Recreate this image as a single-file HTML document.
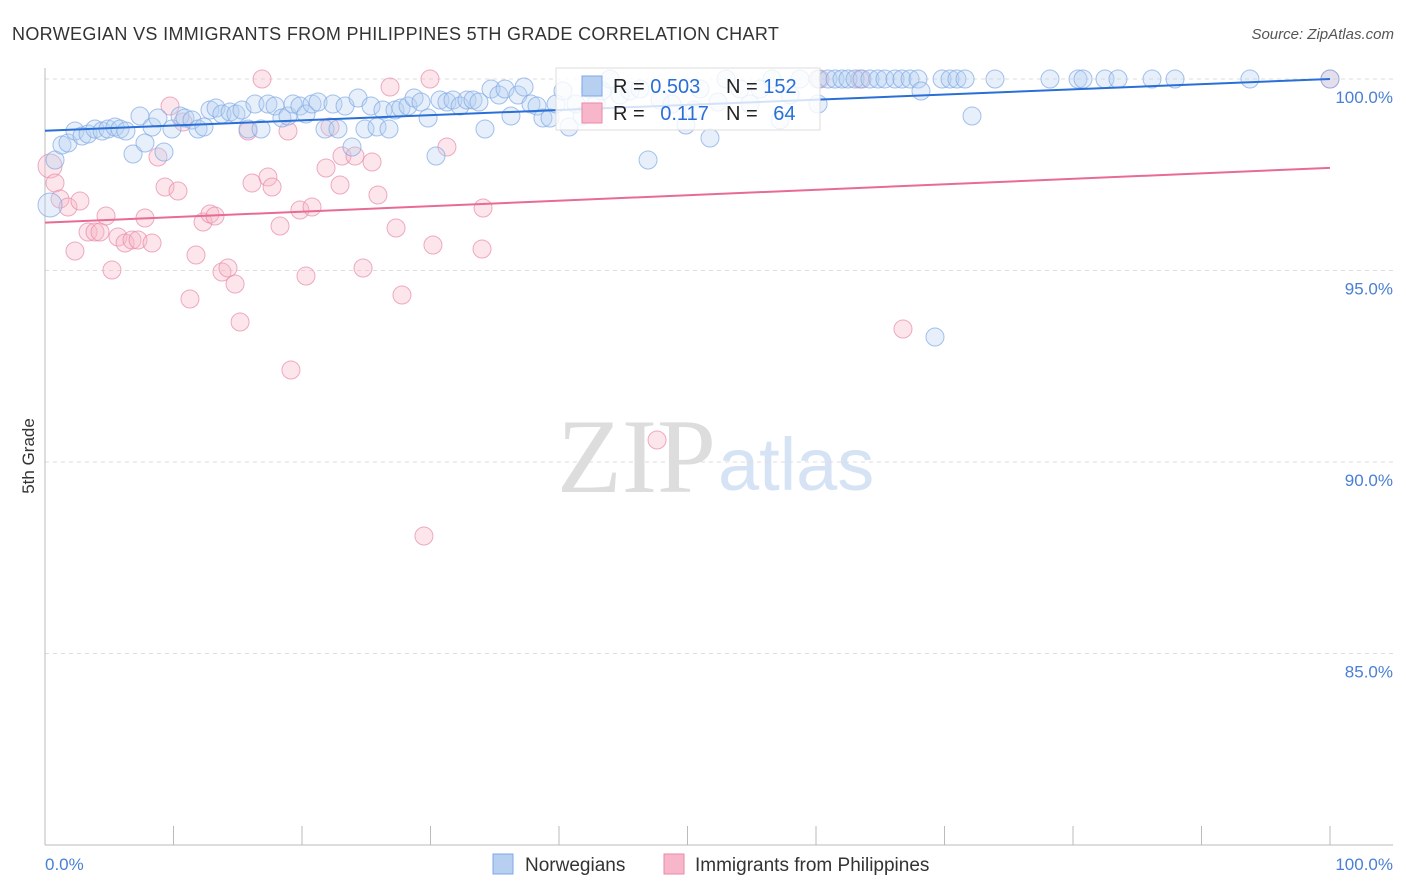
<!DOCTYPE html>
<html><head><meta charset="utf-8"><style>
body{margin:0;background:#fff;font-family:"Liberation Sans",sans-serif;}
svg{display:block}
</style></head><body>
<svg id="c" width="1406" height="892">
<text x="12" y="40" font-size="18" fill="#333" letter-spacing="0.34">NORWEGIAN VS IMMIGRANTS FROM PHILIPPINES 5TH GRADE CORRELATION CHART</text>
<text x="1394" y="39" font-size="15" fill="#555" font-style="italic" text-anchor="end">Source: ZipAtlas.com</text>
<text x="34" y="456" font-size="17" fill="#333" text-anchor="middle" transform="rotate(-90 34 456)">5th Grade</text>
<text x="716" y="492" font-size="106" fill="#ddd" text-anchor="end" font-family="Liberation Serif,serif">ZIP</text>
<text x="718" y="490" font-size="74" fill="#d5e3f5">atlas</text>
<g id="grid"></g><g id="pts"></g><g id="lines"></g>
</svg>
<script>
const yTicks=[100,95,90,85];
const xTickLabels=["0.0%","100.0%"];
const blueX=[],blueY=[],pinkX=[],pinkY=[];
const bluePx=[[50,205],[55,160],[62,145],[68,143],[75,131],[82,136],[88,134],[95,129],[102,131],[108,129],[115,127],[120,129],[126,131],[133,154],[140,116],[145,143],[152,127],[158,118],[164,152],[172,129],[180,116],[185,118],[192,120],[198,129],[204,127],[210,110],[216,108],[222,114],[230,112],[236,114],[242,110],[248,129],[255,104],[261,129],[268,104],[275,106],[282,118],[288,116],[293,104],[300,106],[306,114],[312,104],[318,102],[325,129],[333,104],[338,129],[345,106],[352,147],[358,98],[365,129],[371,106],[377,127],[383,110],[389,129],[395,110],[401,108],[408,106],[414,98],[421,102],[428,118],[436,156],[440,100],[447,102],[453,100],[460,106],[467,100],[473,100],[479,102],[485,129],[491,89],[499,95],[505,89],[511,116],[518,95],[524,87],[531,104],[537,106],[543,118],[550,118],[556,104],[563,91],[569,127],[576,104],[582,116],[590,89],[596,104],[602,91],[610,79],[620,95],[630,91],[640,89],[648,160],[660,100],[672,104],[686,125],[694,110],[700,89],[710,138],[718,102],[726,79],[740,89],[750,104],[760,89],[772,79],[780,120],[790,95],[800,79],[818,104],[818,79],[828,79],[835,79],[842,79],[848,79],[855,79],[862,79],[870,79],[878,79],[885,79],[895,79],[902,79],[910,79],[918,79],[921,91],[935,337],[942,79],[950,79],[957,79],[965,79],[972,116],[995,79],[1050,79],[1078,79],[1083,79],[1105,79],[1118,79],[1152,79],[1175,79],[1250,79],[1330,79]];
const pinkPx=[[50,166],[55,183],[60,199],[68,207],[75,251],[80,201],[88,232],[95,232],[100,232],[106,216],[112,270],[118,237],[125,243],[132,240],[138,240],[145,218],[152,243],[158,157],[165,187],[170,106],[178,191],[183,122],[190,299],[196,255],[203,222],[210,214],[215,216],[222,272],[228,268],[235,284],[240,322],[248,131],[252,183],[262,79],[268,177],[272,187],[280,226],[288,131],[291,370],[300,210],[306,276],[312,207],[326,168],[330,127],[340,185],[342,156],[355,156],[363,268],[372,162],[378,195],[390,87],[396,228],[402,295],[424,536],[430,79],[433,245],[447,147],[482,249],[483,208],[657,440],[820,79],[860,79],[903,329],[1330,79]];
bluePx.forEach(p=>{blueX.push(+((p[0]-45)/12.85).toFixed(2));blueY.push(+(100-(p[1]-79)/38.3).toFixed(3));});
pinkPx.forEach(p=>{pinkX.push(+((p[0]-45)/12.85).toFixed(2));pinkY.push(+(100-(p[1]-79)/38.3).toFixed(3));});
const blueTrend=[98.65,100.0], pinkTrend=[96.25,97.68];
const NS="http://www.w3.org/2000/svg";
const xs=v=>45+v*12.85, ys=v=>79+(100-v)*38.3;
function mk(t,a,par){const e=document.createElementNS(NS,t);for(const k in a)e.setAttribute(k,a[k]);document.getElementById(par).appendChild(e);return e;}
yTicks.forEach(t=>{
 const l=mk('line',{x1:45,x2:1393,y1:ys(t),y2:ys(t),stroke:'#ddd','stroke-dasharray':'4,4'},'grid');
 
 
 const tx=mk('text',{x:1393,y:ys(t)+24,'font-size':17,fill:'#4a7fd4','text-anchor':'end'},'grid');
 tx.textContent=t.toFixed(1)+'%';
 
 
});
let ax=mk('line',{x1:45,x2:1393,y1:845,y2:845,stroke:'#bbb'},'grid');


let ay=mk('line',{x1:45,x2:45,y1:68,y2:845,stroke:'#bbb'},'grid');


for(let i=0;i<=10;i++){const tk=mk('line',{x1:xs(i*10),x2:xs(i*10),y1:826,y2:845,stroke:'#bbb'},'grid');
 
 }
[[0,'start',45],[1,'end',1393]].forEach(([i,a,x])=>{const t=mk('text',{x:x,y:870,'font-size':17,fill:'#4a7fd4','text-anchor':a},'grid');t.textContent=xTickLabels[i];
 
 });
function dots(X,Y,fill,stroke,name){X.forEach((x,i)=>{const r=(i==0)?12:9;const c=mk('circle',{cx:xs(x),cy:ys(Y[i]),r:r,fill:fill,'fill-opacity':0.35,stroke:stroke,'stroke-opacity':0.7,'stroke-width':1},'pts');
 
 });}
dots(pinkX,pinkY,'#f7b6c9','#e889a8','pink-point');
dots(blueX,blueY,'#b7d0f2','#7ea8e6','blue-point');
let bl=mk('line',{x1:xs(0),y1:ys(blueTrend[0]),x2:xs(100),y2:ys(blueTrend[1]),stroke:'#2a6fd6','stroke-width':2},'lines');


let pl=mk('line',{x1:xs(0),y1:ys(pinkTrend[0]),x2:xs(100),y2:ys(pinkTrend[1]),stroke:'#e86b94','stroke-width':2},'lines');


</script>
<svg width="1406" height="892" style="position:absolute;left:0;top:0">
<g>
<rect x="556" y="68" width="264" height="62" fill="#fff" fill-opacity="0.8" stroke="#ddd"/>
<rect x="582" y="76" width="20" height="20" fill="#b7d0f2" stroke="#7ea8e6"/>
<rect x="582" y="103" width="20" height="20" fill="#f7b6c9" stroke="#e889a8"/>
<text x="613" y="93" font-size="20" fill="#222">R = <tspan fill="#2a6fd6">0.503</tspan></text>
<text x="726" y="93" font-size="20" fill="#222">N = <tspan fill="#2a6fd6">152</tspan></text>
<text x="613" y="120" font-size="20" fill="#222">R = <tspan fill="#2a6fd6" dx="10">0.117</tspan></text>
<text x="726" y="120" font-size="20" fill="#222">N = <tspan fill="#2a6fd6" dx="10">64</tspan></text>
</g>
<g>
<rect x="493" y="854" width="20" height="20" fill="#b7d0f2" stroke="#7ea8e6"/>
<text x="525" y="871" font-size="19" fill="#333">Norwegians</text>
<rect x="664" y="854" width="20" height="20" fill="#f7b6c9" stroke="#e889a8"/>
<text x="695" y="871" font-size="19" fill="#333">Immigrants from Philippines</text>
</g>
</svg>
</body></html>
